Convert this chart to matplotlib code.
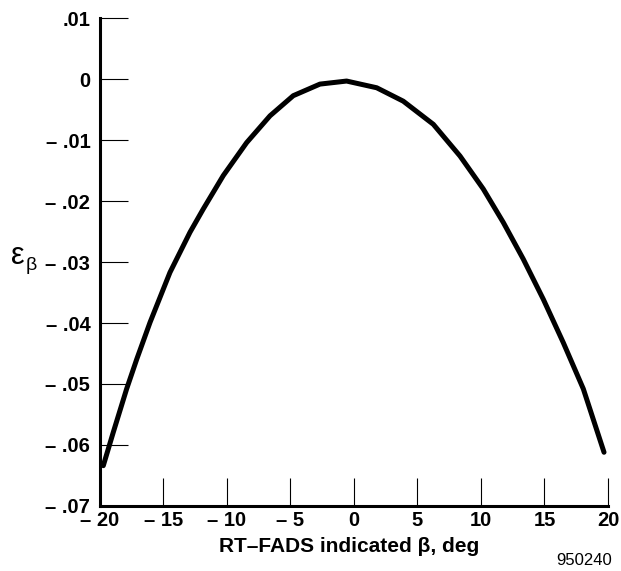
import numpy as np
import matplotlib
matplotlib.use("Agg")
import matplotlib.pyplot as plt

# curve
beta = [-19.74, -18.95, -17.9, -17.1, -16.06, -14.49, -12.91, -11.87, -10.29,
        -8.45, -6.61, -4.78, -2.68, -0.58, 1.79, 3.88, 6.25, 8.35, 10.18,
        11.76, 13.33, 14.91, 16.48, 18.06, 19.69]
eps = [-0.0634, -0.0579, -0.0508, -0.0459, -0.0399, -0.0317, -0.0251, -0.0213,
       -0.0158, -0.0104, -0.0060, -0.0027, -0.0008, -0.0003, -0.0014, -0.0036,
       -0.0074, -0.0126, -0.0180, -0.0235, -0.0295, -0.0361, -0.0432, -0.0508,
       -0.0612]

xticks = [-20, -15, -10, -5, 0, 5, 10, 15, 20]
xlabels = ['\u2013 20', '\u2013 15', '\u2013 10', '\u2013 5', '0', '5', '10', '15', '20']
yticks = [0.01, 0, -0.01, -0.02, -0.03, -0.04, -0.05, -0.06, -0.07]
ylabels = ['.01', '0', '\u2013 .01', '\u2013 .02', '\u2013 .03', '\u2013 .04',
           '\u2013 .05', '\u2013 .06', '\u2013 .07']

plt.rcParams['font.family'] = ['Liberation Sans', 'DejaVu Sans']

fig = plt.figure(figsize=(6.21, 5.71), dpi=100)
ax = fig.add_axes([0.161, 0.114, 0.818, 0.854])

ax.plot(beta, eps, color='black', lw=3.6, solid_capstyle='round', solid_joinstyle='round')

ax.set_xlim(-20, 20)
ax.set_ylim(-0.07, 0.01)
ax.set_xticks(xticks)
ax.set_xticklabels(xlabels)
ax.set_yticks(yticks)
ax.set_yticklabels(ylabels)

for s in ['top', 'right']:
    ax.spines[s].set_visible(False)
for s in ['left', 'bottom']:
    ax.spines[s].set_linewidth(2.2)

ax.tick_params(direction='in', length=20, width=0.8, labelsize=14.5)
ax.tick_params(axis='x', pad=4)
ax.tick_params(axis='y', pad=7)
for lbl in ax.get_xticklabels() + ax.get_yticklabels():
    lbl.set_fontweight('bold')

ax.set_xlabel('RT\u2013FADS indicated \u03b2, deg', fontsize=15, fontweight='bold')
ax.xaxis.set_label_coords(0.49, -0.064)
# y label: epsilon with beta subscript
fig.text(0.029, 0.551, '\u03b5', fontsize=22, ha='center', va='center')
fig.text(0.051, 0.535, '\u03b2', fontsize=14, ha='center', va='center')
fig.text(0.986, 0.005, '950240', fontsize=12, ha='right', va='bottom')

fig.savefig('out.png', dpi=100)
